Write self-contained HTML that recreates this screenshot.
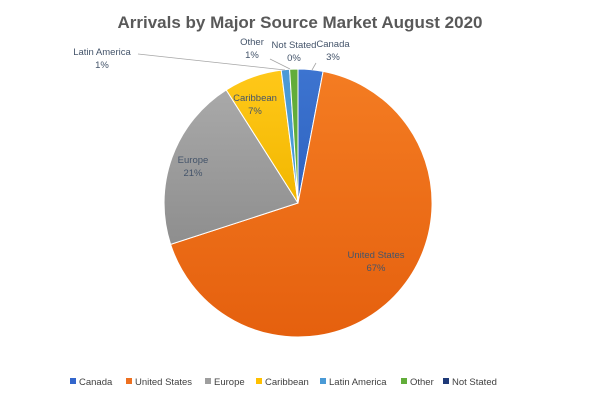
<!DOCTYPE html>
<html><head><meta charset="utf-8"><style>
body{margin:0;background:#fff;}
svg text{font-family:"Liberation Sans",sans-serif;}
</style></head><body>
<svg width="600" height="400" viewBox="0 0 600 400">
<defs>
<linearGradient id="us" x1="0" y1="0" x2="0" y2="1"><stop offset="0" stop-color="#f47c22"/><stop offset="1" stop-color="#e5600e"/></linearGradient>
<linearGradient id="eu" x1="0" y1="0" x2="0" y2="1"><stop offset="0" stop-color="#a9a9a9"/><stop offset="1" stop-color="#8e8e8e"/></linearGradient>
<linearGradient id="ca" x1="0" y1="0" x2="0" y2="1"><stop offset="0" stop-color="#ffc819"/><stop offset="1" stop-color="#f2b700"/></linearGradient>
<linearGradient id="cn" x1="0" y1="0" x2="0" y2="1"><stop offset="0" stop-color="#3d74d0"/><stop offset="1" stop-color="#2e63c0"/></linearGradient>
</defs>
<rect width="600" height="400" fill="#fff"/>
<text x="300" y="28" text-anchor="middle" font-size="17" font-weight="bold" fill="#595959">Arrivals by Major Source Market August 2020</text>
<g stroke="#fff" stroke-width="1">
<path d="M298,203 L298,69 A134,134 0 0 1 323.1,71.4 Z" fill="url(#cn)"/>
<path d="M298,203 L323.1,71.4 A134,134 0 1 1 170.6,244.4 Z" fill="url(#us)"/>
<path d="M298,203 L170.6,244.4 A134,134 0 0 1 226.2,89.9 Z" fill="url(#eu)"/>
<path d="M298,203 L226.2,89.9 A134,134 0 0 1 281.2,70.1 Z" fill="url(#ca)"/>
<path d="M298,203 L281.2,70.1 A134,134 0 0 1 289.6,69.3 Z" fill="#4a9ad6"/>
<path d="M298,203 L289.6,69.3 A134,134 0 0 1 298,69 Z" fill="#62ad3a"/>
</g>
<g stroke="#a6a6a6" stroke-width="0.8" fill="none">
<polyline points="138,54 285,70"/>
<polyline points="270,59 290,69"/>
<polyline points="316,63 312,70"/>
</g>
<g font-size="9.5" fill="#44546a" text-anchor="middle">
<text x="102" y="55">Latin America</text><text x="102" y="68">1%</text>
<text x="252" y="45">Other</text><text x="252" y="58">1%</text>
<text x="294" y="48">Not Stated</text><text x="294" y="61">0%</text>
<text x="333" y="47">Canada</text><text x="333" y="60">3%</text>
<text x="255" y="101">Caribbean</text><text x="255" y="114">7%</text>
<text x="193" y="163">Europe</text><text x="193" y="176">21%</text>
<text x="376" y="258">United States</text><text x="376" y="271">67%</text>
</g>
<g font-size="9.5" fill="#404040">
<rect x="70" y="378" width="6" height="6" fill="#3366cc"/><text x="79" y="385">Canada</text>
<rect x="126" y="378" width="6" height="6" fill="#ed7020"/><text x="135" y="385">United States</text>
<rect x="205" y="378" width="6" height="6" fill="#9e9e9e"/><text x="214" y="385">Europe</text>
<rect x="256" y="378" width="6" height="6" fill="#ffc000"/><text x="265" y="385">Caribbean</text>
<rect x="320" y="378" width="6" height="6" fill="#4a9ad6"/><text x="329" y="385">Latin America</text>
<rect x="401" y="378" width="6" height="6" fill="#62ad3a"/><text x="410" y="385">Other</text>
<rect x="443" y="378" width="6" height="6" fill="#1f3a78"/><text x="452" y="385">Not Stated</text>
</g>
</svg>
</body></html>
